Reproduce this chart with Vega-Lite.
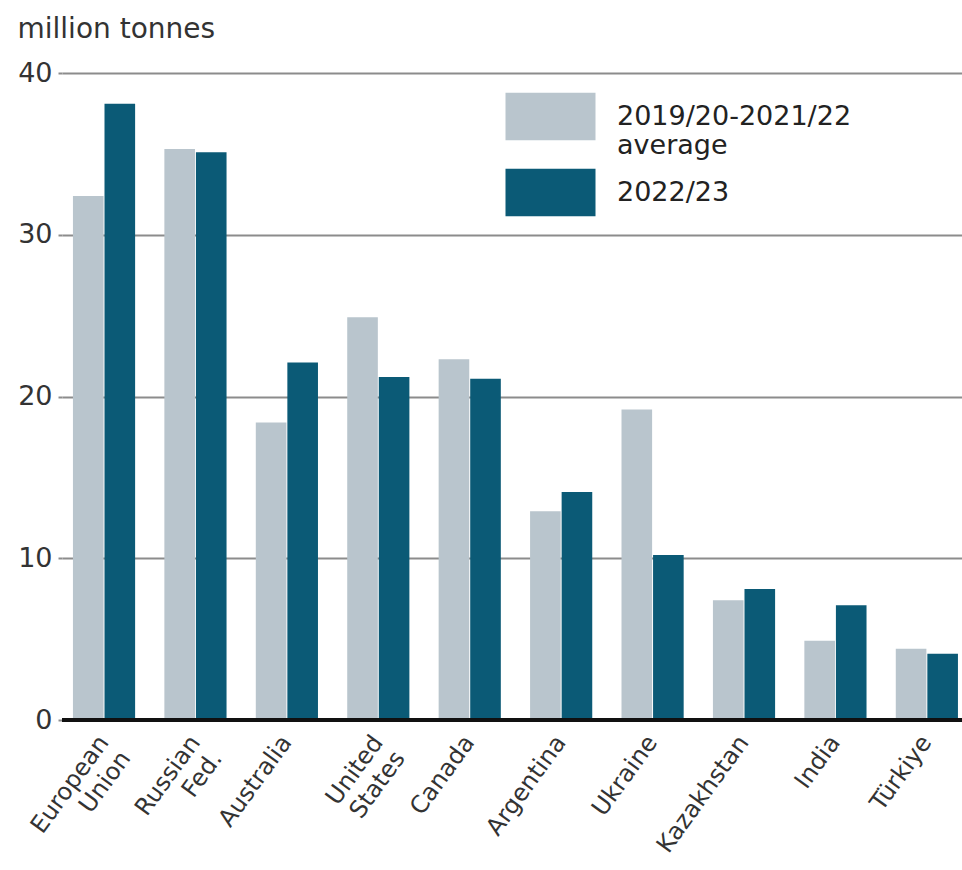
{
  "$schema": "https://vega.github.io/schema/vega-lite/v6.json",
  "autosize": "none",
  "width": 900,
  "height": 647,
  "padding": {"left": 62, "top": 73, "right": 0, "bottom": 150},
  "background": "white",
  "config": {
    "font": "DejaVu Sans",
    "view": {"stroke": null}
  },
  "data": {
    "values": [
      {"country": "European|Union", "period": "2019/20-2021/22 average", "value": 32.4},
      {"country": "European|Union", "period": "2022/23", "value": 38.1},
      {"country": "Russian|Fed.", "period": "2019/20-2021/22 average", "value": 35.3},
      {"country": "Russian|Fed.", "period": "2022/23", "value": 35.1},
      {"country": "Australia", "period": "2019/20-2021/22 average", "value": 18.4},
      {"country": "Australia", "period": "2022/23", "value": 22.1},
      {"country": "United|States", "period": "2019/20-2021/22 average", "value": 24.9},
      {"country": "United|States", "period": "2022/23", "value": 21.2},
      {"country": "Canada", "period": "2019/20-2021/22 average", "value": 22.3},
      {"country": "Canada", "period": "2022/23", "value": 21.1},
      {"country": "Argentina", "period": "2019/20-2021/22 average", "value": 12.9},
      {"country": "Argentina", "period": "2022/23", "value": 14.1},
      {"country": "Ukraine", "period": "2019/20-2021/22 average", "value": 19.2},
      {"country": "Ukraine", "period": "2022/23", "value": 10.2},
      {"country": "Kazakhstan", "period": "2019/20-2021/22 average", "value": 7.4},
      {"country": "Kazakhstan", "period": "2022/23", "value": 8.1},
      {"country": "India", "period": "2019/20-2021/22 average", "value": 4.9},
      {"country": "India", "period": "2022/23", "value": 7.1},
      {"country": "Türkiye", "period": "2019/20-2021/22 average", "value": 4.4},
      {"country": "Türkiye", "period": "2022/23", "value": 4.1}
    ]
  },
  "layer": [
    {
      "mark": {"type": "bar"},
      "encoding": {
        "x": {
          "field": "country",
          "type": "nominal",
          "sort": null,
          "scale": {"paddingInner": 0.32, "paddingOuter": 0.082, "align": 0.73},
          "axis": {
            "title": null,
            "domain": false,
            "ticks": false,
            "labelAngle": -54,
            "labelAlign": "right",
            "labelBaseline": "middle",
            "labelPadding": 18,
            "labelFontSize": 24,
            "labelColor": "#333333",
            "labelLineHeight": 27,
            "labelExpr": "split(datum.label, '|')"
          }
        },
        "xOffset": {
          "field": "period",
          "type": "nominal",
          "sort": ["2019/20-2021/22 average", "2022/23"],
          "scale": {"paddingInner": 0.03}
        },
        "y": {
          "field": "value",
          "type": "quantitative",
          "scale": {"domain": [0, 40], "nice": false},
          "axis": {
            "values": [0, 10, 20, 30, 40],
            "title": "million tonnes",
            "titleAngle": 0,
            "titleAlign": "left",
            "titleBaseline": "alphabetic",
            "titleX": -45,
            "titleY": -36,
            "titleFontSize": 28,
            "titleFontWeight": "normal",
            "titleColor": "#333333",
            "domain": false,
            "ticks": true,
            "tickSize": 4,
            "tickColor": "#8c8c8c",
            "tickWidth": 2,
            "labelFontSize": 27,
            "labelColor": "#333333",
            "labelPadding": 6,
            "grid": true,
            "gridColor": "#8c8c8c",
            "gridWidth": 2
          }
        },
        "color": {
          "field": "period",
          "type": "nominal",
          "sort": ["2019/20-2021/22 average", "2022/23"],
          "scale": {"range": ["#b9c5cd", "#0b5a76"]},
          "legend": {
            "title": null,
            "orient": "none",
            "legendX": 466,
            "legendY": 21,
            "padding": 0,
            "symbolType": "M-2,-1.06H2V1.06H-2Z",
            "symbolSize": 2025,
            "symbolStrokeWidth": 0,
            "symbolOpacity": 1,
            "labelFontSize": 27,
            "labelColor": "#222222",
            "labelLimit": 400,
            "labelOffset": 44,
            "labelLineHeight": 33,
            "rowPadding": 9,
            "labelExpr": "datum.label == '2019/20-2021/22 average' ? ['2019/20-2021/22', 'average'] : datum.label"
          }
        }
      }
    },
    {
      "mark": {"type": "rule", "color": "#111111", "strokeWidth": 3},
      "encoding": {"y": {"datum": 0}}
    }
  ]
}
